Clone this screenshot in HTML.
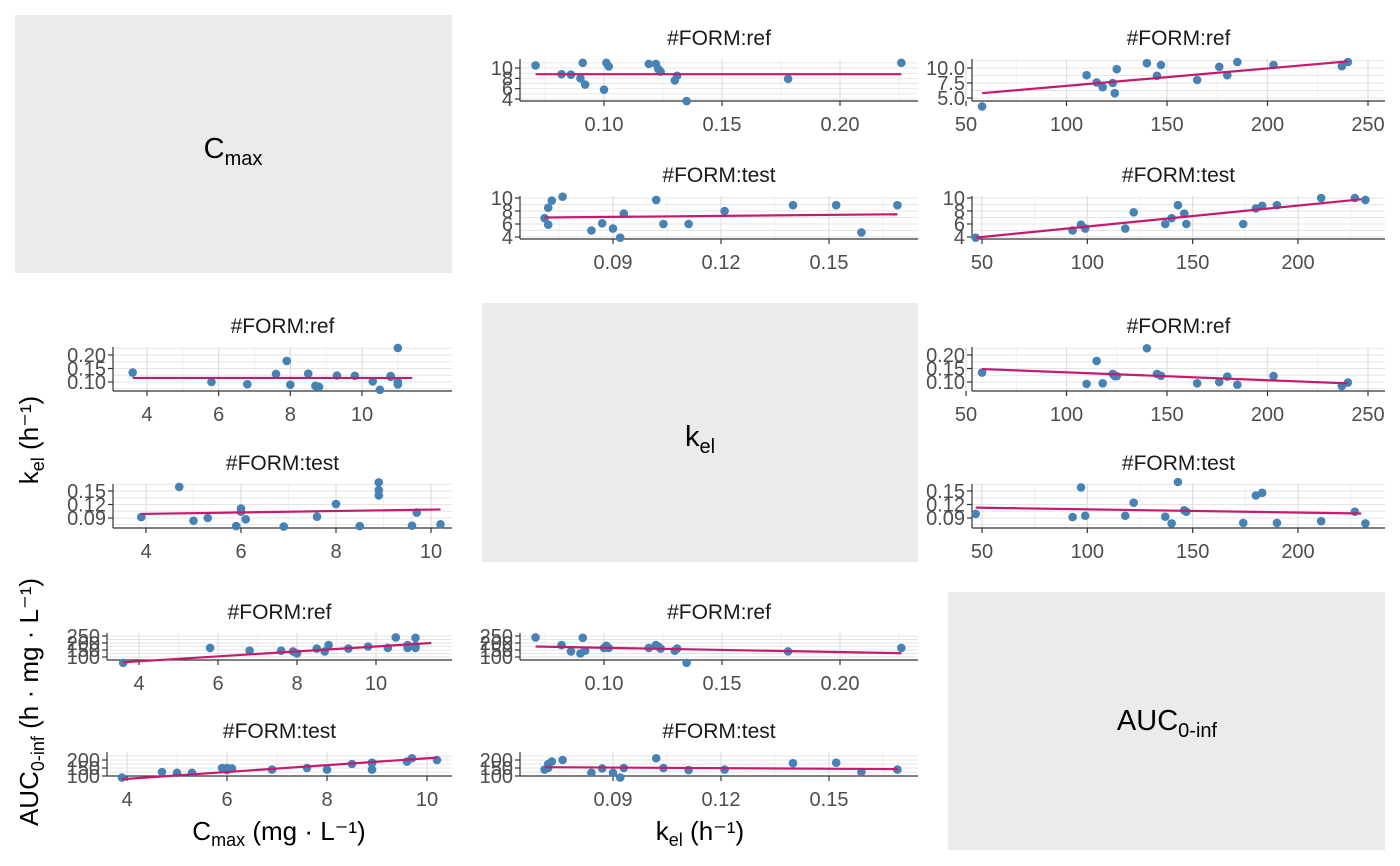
<!DOCTYPE html><html><head><meta charset="utf-8"><style>body{margin:0;background:#fff}svg{display:block;font-family:"Liberation Sans",Arial,sans-serif}</style></head><body>
<svg id="s" width="1400" height="866" xmlns="http://www.w3.org/2000/svg">
<rect x="15" y="15" width="437" height="258" fill="#ebebeb"/>
<rect x="482" y="303" width="436" height="259" fill="#ebebeb"/>
<rect x="948" y="592" width="437" height="258" fill="#ebebeb"/>
<text x="233" y="158" font-size="29" fill="#000" text-anchor="middle">C<tspan font-size="20" dy="7">max</tspan></text>
<text x="700" y="446" font-size="29" fill="#000" text-anchor="middle">k<tspan font-size="20" dy="7">el</tspan></text>
<text x="1167" y="730" font-size="29" fill="#000" text-anchor="middle">AUC<tspan font-size="20" dy="7">0-inf</tspan></text>
<text x="279" y="840" font-size="26" fill="#000" text-anchor="middle">C<tspan font-size="18" dy="6">max</tspan><tspan dy="-6">  (mg · L⁻¹)</tspan></text>
<text x="700" y="840" font-size="26" fill="#000" text-anchor="middle">k<tspan font-size="18" dy="6">el</tspan><tspan dy="-6">  (h⁻¹)</tspan></text>
<text transform="translate(38,440) rotate(-90)" font-size="26" fill="#000" text-anchor="middle">k<tspan font-size="18" dy="6">el</tspan><tspan dy="-6">  (h⁻¹)</tspan></text>
<text transform="translate(38,702) rotate(-90)" font-size="26" fill="#000" text-anchor="middle">AUC<tspan font-size="18" dy="6">0-inf</tspan><tspan dy="-6">  (h · mg · L⁻¹)</tspan></text>
</svg>
<script>
const S=document.getElementById('s');let h='';
function lin(a,b){return v=>a[1]+(v-a[0])*(b[1]-a[1])/(b[0]-a[0]);}
function P(o){const fx=lin(o.xc[0],o.xc[1]),fy=lin(o.yc[0],o.yc[1]);
const L=o.L,R=o.R,T=o.T,B=o.B;
h+=`<text x="${(L+R)/2}" y="${T-14}" font-size="21" fill="#1a1a1a" text-anchor="middle">${o.title}</text>`;
const xs=o.xt,ys=o.yt;
for(let i=0;i<xs.length-1;i++){const m=fx((xs[i]+xs[i+1])/2);h+=`<line x1="${m}" x2="${m}" y1="${T}" y2="${B}" stroke="#ebebeb" stroke-width="0.7"/>`;}
const dx=xs[1]-xs[0];[xs[0]-dx/2,xs[xs.length-1]+dx/2].forEach(v=>{const m=fx(v);if(m>L&&m<R)h+=`<line x1="${m}" x2="${m}" y1="${T}" y2="${B}" stroke="#ebebeb" stroke-width="0.7"/>`;});
const dy=ys[1]-ys[0];
for(let v=ys[0]-dy/2;v<=ys[ys.length-1]+dy;v+=dy/2){const m=fy(v);if(m>T&&m<B)h+=`<line x1="${L}" x2="${R}" y1="${m}" y2="${m}" stroke="#e5e5e5" stroke-width="0.9"/>`;}
xs.forEach(v=>{const m=fx(v);h+=`<line x1="${m}" x2="${m}" y1="${T}" y2="${B}" stroke="#dedede" stroke-width="1.2"/><line x1="${m}" x2="${m}" y1="${B}" y2="${B+5}" stroke="#333" stroke-width="1.2"/><text x="${m}" y="${B+30}" font-size="20" fill="#4d4d4d" text-anchor="middle">${o.xl?o.xl(v):v}</text>`;});
ys.forEach(v=>{const m=fy(v);h+=`<line x1="${L-5}" x2="${L}" y1="${m}" y2="${m}" stroke="#333" stroke-width="1.2"/><text x="${L-7}" y="${m+7}" font-size="20" fill="#4d4d4d" text-anchor="end">${o.yl?o.yl(v):v}</text>`;});
h+=`<line x1="${L}" x2="${L}" y1="${T}" y2="${B}" stroke="#333" stroke-width="1.2"/><line x1="${L}" x2="${R}" y1="${B}" y2="${B}" stroke="#333" stroke-width="1.2"/>`;
o.p.forEach(q=>{h+=`<circle cx="${fx(q[0])}" cy="${fy(q[1])}" r="4.3" fill="#4682b4"/>`;});
h+=`<line x1="${fx(o.l[0])}" y1="${fy(o.l[1])}" x2="${fx(o.l[2])}" y2="${fy(o.l[3])}" stroke="#c51b6e" stroke-width="2.2"/>`;}
const f2=v=>v.toFixed(2),f1=v=>v.toFixed(1);
const kRefX={xc:[[0.10,604],[0.20,840]],xt:[0.10,0.15,0.20],xl:f2};
const kTestX={xc:[[0.09,613],[0.15,829]],xt:[0.09,0.12,0.15],xl:f2};
const aRefX={xc:[[50,966],[250,1368]],xt:[50,100,150,200,250]};
const aTestX={xc:[[50,982],[200,1298]],xt:[50,100,150,200]};
const kRefP=[0.071,0.082,0.086,0.090,0.091,0.092,0.100,0.101,0.102,0.119,0.122,0.123,0.124,0.130,0.131,0.135,0.178,0.226];
const cRef=[10.5,8.8,8.7,8.0,11,6.8,5.8,11,10.3,10.8,10.8,9.8,9.3,7.6,8.5,3.6,7.9,11];
const kTest=[0.071,0.072,0.073,0.072,0.076,0.084,0.087,0.090,0.092,0.093,0.102,0.104,0.111,0.121,0.140,0.152,0.159,0.169];
const cTest=[6.9,8.5,9.6,5.9,10.2,5.0,6.1,5.3,3.9,7.6,9.7,6.0,6.0,8.0,8.9,8.9,4.7,8.9];
const aRef=[240,185,140,125,237,145,165,180,165,165,185,175,160,145,160,58,140,165];
const aTest=[140,175,190,150,200,120,147,120,90,150,211,150,137,140,180,183,125,140];
const z=(a,b)=>a.map((v,i)=>[v,b[i]]);
// col3 specific
const a3r=[58,110,115,118,123,124,125,140,145,147,165,176,180,185,203,237,240];
const c3r=[3.6,8.8,7.6,6.8,7.5,5.8,9.8,10.8,8.7,10.5,8.0,10.2,8.8,11,10.5,10.3,11];
const k3r=[0.135,0.093,0.178,0.095,0.130,0.122,0.122,0.225,0.130,0.123,0.095,0.100,0.120,0.090,0.122,0.085,0.098];
const a3t=[47,93,97,99,118,122,137,140,143,146,147,174,180,183,190,211,227,232];
const c3t=[3.9,5.0,5.9,5.3,5.3,7.8,6.0,6.9,8.9,7.6,6.0,6.0,8.4,8.8,8.9,10,10,9.7];
const k3t=[0.099,0.092,0.158,0.095,0.095,0.124,0.093,0.078,0.170,0.107,0.104,0.079,0.140,0.146,0.079,0.083,0.104,0.078];
// row1
P({title:'#FORM:ref',L:520,R:918,T:59,B:101,...kRefX,yc:[[4,99],[10,68]],yt:[4,6,8,10],p:z(kRefP,cRef),l:[0.071,8.8,0.226,8.8]});
P({title:'#FORM:test',L:520,R:918,T:196,B:239,...kTestX,yc:[[4,237],[10,198]],yt:[4,6,8,10],p:z(kTest,cTest),l:[0.071,7.0,0.169,7.5]});
P({title:'#FORM:ref',L:972,R:1385,T:59,B:101,...aRefX,yc:[[5,98],[10,68]],yt:[5,7.5,10],yl:f1,p:z(a3r,c3r),l:[58,5.8,240,11.1]});
P({title:'#FORM:test',L:972,R:1385,T:196,B:239,...aTestX,yc:[[4,237],[10,198]],yt:[4,6,8,10],p:z(a3t,c3t),l:[47,3.9,230,9.8]});
// row2
const crX={xc:[[4,147],[10,362]],xt:[4,6,8,10]};
const ctX={xc:[[4,146],[10,431]],xt:[4,6,8,10]};
const kY={yc:[[0.10,382],[0.20,355]],yt:[0.10,0.15,0.20],yl:f2};
const kYt={yc:[[0.09,518],[0.15,491]],yt:[0.09,0.12,0.15],yl:f2};
P({title:'#FORM:ref',L:113,R:452,T:347,B:391,...crX,...kY,p:z(cRef,kRefP),l:[3.6,0.115,11.4,0.115]});
P({title:'#FORM:test',L:113,R:452,T:484,B:528,...ctX,...kYt,p:z(cTest,kTest),l:[3.9,0.099,10.2,0.109]});
P({title:'#FORM:ref',L:972,R:1385,T:347,B:391,...aRefX,...kY,p:z(a3r,k3r),l:[58,0.148,240,0.095]});
P({title:'#FORM:test',L:972,R:1385,T:484,B:528,...aTestX,...kYt,p:z(a3t,k3t),l:[47,0.113,230,0.100]});
// row3
const aY={yc:[[100,657],[250,636]],yt:[100,150,200,250]};
const aYt={yc:[[100,776],[200,760]],yt:[100,150,200]};
P({title:'#FORM:ref',L:107,R:452,T:633,B:660,xc:[[4,139],[10,376]],xt:[4,6,8,10],...aY,p:z(cRef,aRef),l:[3.6,62,11.4,200]});
P({title:'#FORM:test',L:107,R:452,T:752,B:776,xc:[[4,127],[10,427]],xt:[4,6,8,10],...aYt,p:z(cTest,aTest),l:[3.9,80,10.2,215]});
P({title:'#FORM:ref',L:520,R:918,T:633,B:660,...kRefX,...aY,p:z(kRefP,aRef),l:[0.071,175,0.226,127]});
P({title:'#FORM:test',L:520,R:918,T:752,B:776,...kTestX,...aYt,p:z(kTest,aTest),l:[0.071,155,0.169,143]});
S.insertAdjacentHTML('beforeend',h);
</script></body></html>
